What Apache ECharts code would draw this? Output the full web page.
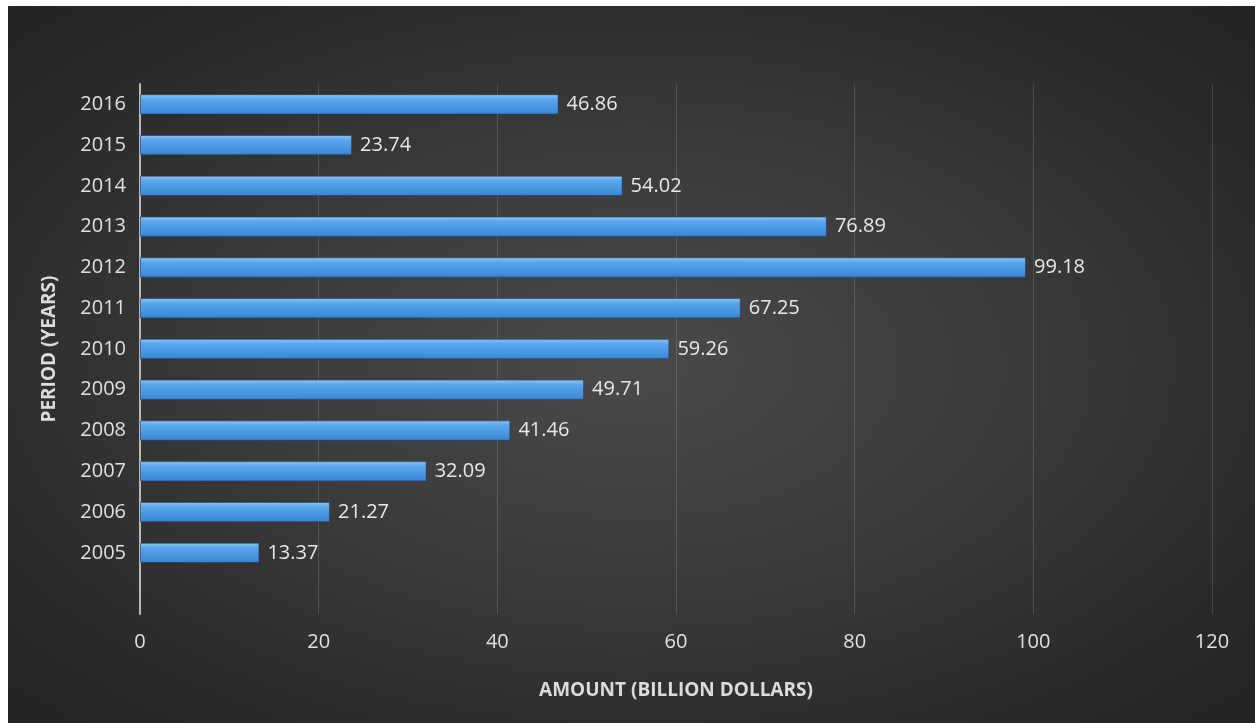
<!DOCTYPE html>
<html>
<head>
<meta charset="utf-8">
<script src="https://cdn.jsdelivr.net/npm/echarts@6/dist/echarts.min.js"></script>
<style>
  html, body { margin: 0; padding: 0; background: #ffffff; }
  #chart {
    position: absolute; left: 8px; top: 6px; width: 1247px; height: 717px;
    background: radial-gradient(ellipse at 50% 50%, #4a4a4a 0%, #3a3a3a 45%, #2a2a2a 80%, #242424 100%);
  }
</style>
</head>
<body>
<div id="chart"></div>
<script>
// Annual amounts, billion dollars; the blank slot leaves space under 2005.
const years = ['', '2005', '2006', '2007', '2008', '2009', '2010', '2011', '2012', '2013', '2014', '2015', '2016'];
const amounts = [null, 13.37, 21.27, 32.09, 41.46, 49.71, 59.26, 67.25, 99.18, 76.89, 54.02, 23.74, 46.86];
const xTicks = { min: 0, max: 120, interval: 20 };

const font = '"Open Sans", "Noto Sans", sans-serif';
const chart = echarts.init(document.getElementById('chart'), null, { renderer: 'canvas' });

chart.setOption({
  backgroundColor: 'transparent',
  animation: false,
  grid: { left: 132, right: 43, top: 78, bottom: 109, containLabel: false },
  xAxis: {
    type: 'value',
    min: xTicks.min, max: xTicks.max, interval: xTicks.interval,
    name: 'AMOUNT (BILLION DOLLARS)',
    nameLocation: 'middle',
    nameGap: 67,
    nameTextStyle: { color: '#dcdcdc', fontFamily: font, fontWeight: 'bold', fontSize: 19 },
    axisLine: { show: false },
    axisTick: { show: false },
    axisLabel: { color: '#e0e0e0', fontFamily: font, fontSize: 20, margin: 18 },
    splitLine: { show: true, lineStyle: { color: 'rgba(255,255,255,0.14)', width: 1 } }
  },
  yAxis: {
    type: 'category',
    data: years,
    name: 'PERIOD (YEARS)',
    nameLocation: 'middle',
    nameGap: 81,
    nameRotate: 90,
    nameTextStyle: { color: '#dcdcdc', fontFamily: font, fontWeight: 'bold', fontSize: 19 },
    axisLine: { show: true, lineStyle: { color: '#b8b8b8', width: 2 } },
    axisTick: { show: false },
    axisLabel: { color: '#e0e0e0', fontFamily: font, fontSize: 20, margin: 14 },
    splitLine: { show: false }
  },
  series: [{
    type: 'bar',
    data: amounts,
    barWidth: '50%',
    itemStyle: {
      color: new echarts.graphic.LinearGradient(0, 0, 0, 1, [
        { offset: 0, color: '#94c6f2' },
        { offset: 0.25, color: '#5aa6ea' },
        { offset: 0.7, color: '#4594e0' },
        { offset: 1, color: '#3a83cf' }
      ]),
      borderColor: 'rgba(30,60,100,0.6)',
      borderWidth: 1
    },
    label: {
      show: true,
      position: 'right',
      distance: 8,
      color: '#e8e8e8',
      fontFamily: font,
      fontSize: 20,
      formatter: p => p.value.toFixed(2)
    }
  }]
});
</script>
</body>
</html>
